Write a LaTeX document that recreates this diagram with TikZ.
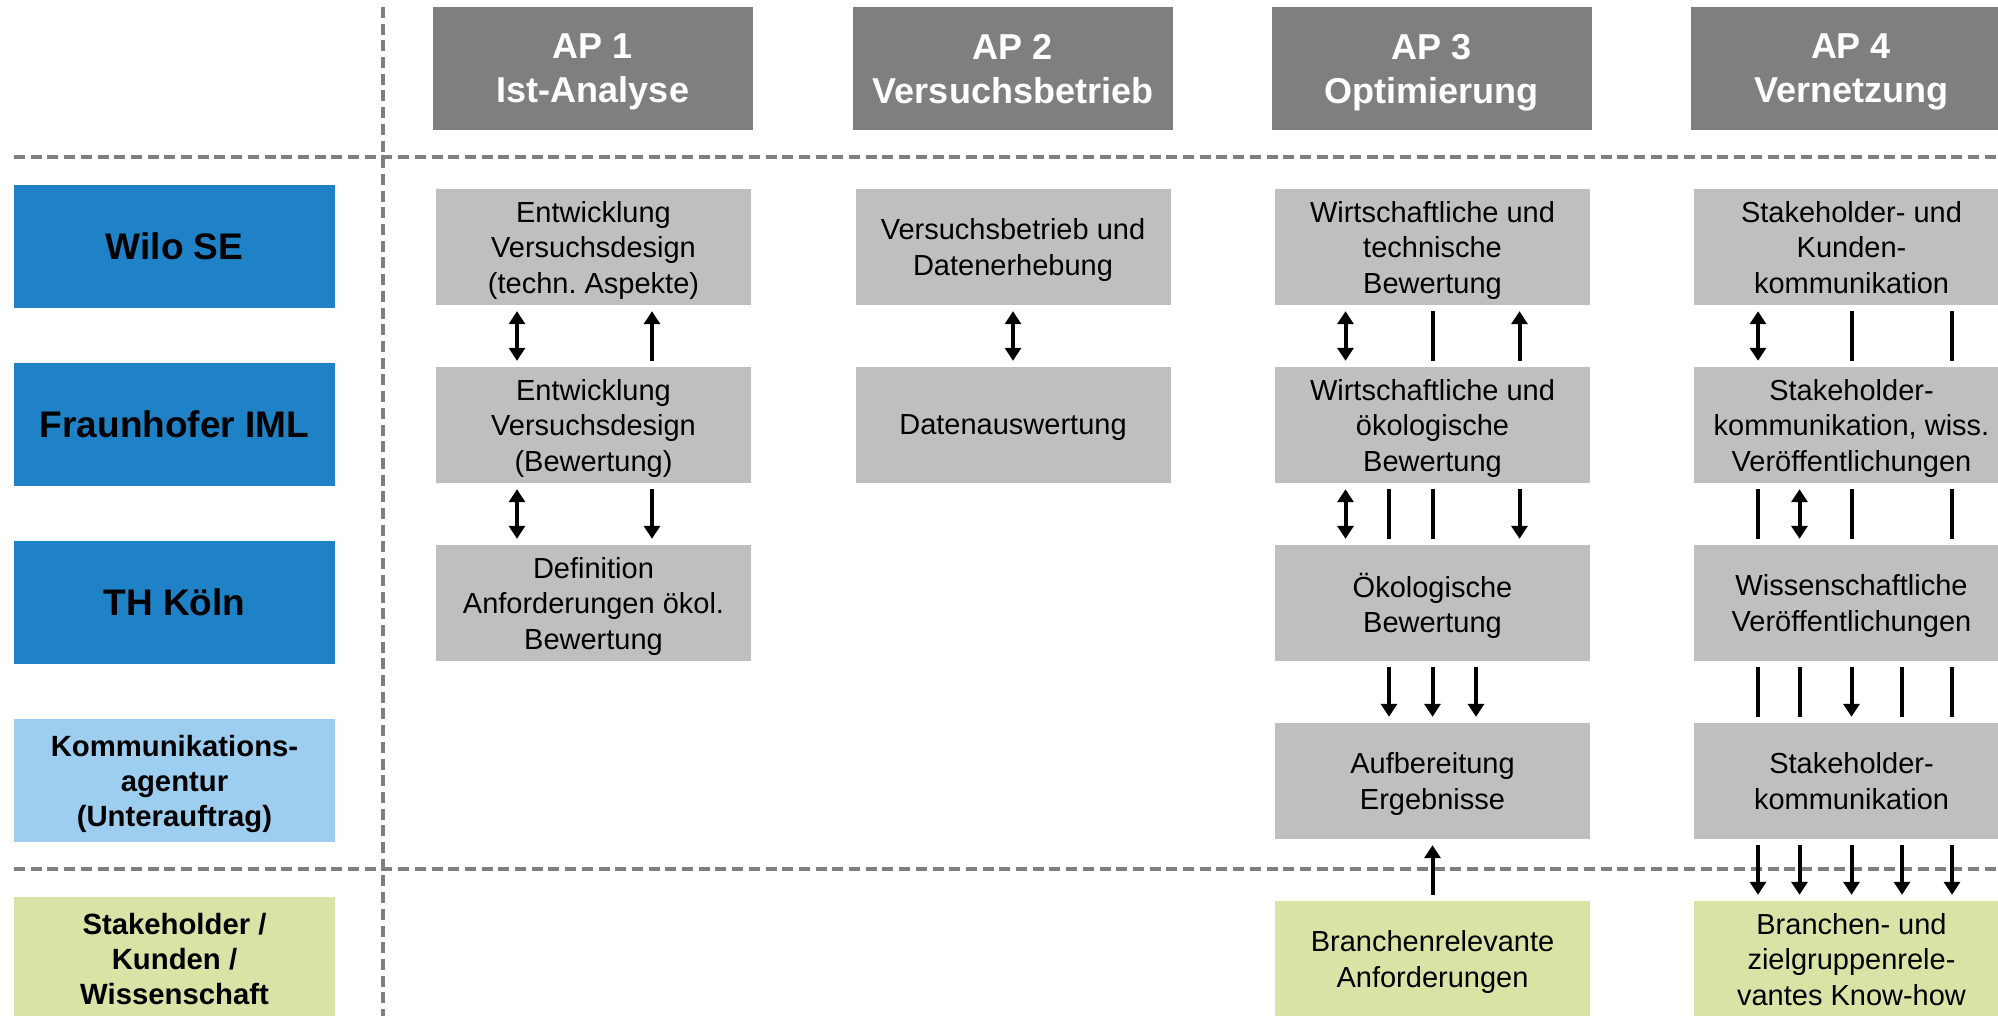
\documentclass[tikz,border=0pt]{standalone}
\usepackage{fontspec}
\setmainfont{Liberation Sans}
\usetikzlibrary{arrows.meta}
\frenchspacing

\definecolor{apgrey}{HTML}{7F7F7F}
\definecolor{taskgrey}{HTML}{BFBFBF}
\definecolor{partnerblue}{HTML}{1F82C6}
\definecolor{agenturblue}{HTML}{9DCEF0}
\definecolor{stakegreen}{HTML}{D7E4A6}

\tikzset{
	aphead/.style={fill=apgrey,text=white,inner sep=0pt,align=center,minimum width=320pt,minimum height=123pt,font=\fontsize{36}{44}\selectfont\bfseries,text depth=-2pt},
	partner/.style={fill=partnerblue,inner sep=0pt,align=center,minimum width=321pt,minimum height=123pt,font=\fontsize{37}{43}\selectfont\bfseries},
	partnersmall/.style={partner,font=\fontsize{29.3}{35}\selectfont\bfseries,text depth=-0.5pt},
	task/.style={fill=taskgrey,inner sep=0pt,align=center,minimum width=315pt,minimum height=116pt,font=\fontsize{29}{35.5}\selectfont,text depth=-1.3pt},
	result/.style={task,fill=stakegreen},
	divider/.style={apgrey,line width=4pt,dash pattern=on 11pt off 5.7pt},
	link/.style={line width=4pt,shorten <=6pt,shorten >=6pt,>={Triangle[length=13pt,width=16pt]}}
}

\begin{document}
\begin{tikzpicture}[x=1pt,y=-1pt]
	\useasboundingbox (0,0) rectangle (1998,1016);
	\draw[divider] (14,157) -- (1998,157);
	\draw[divider] (14,869) -- (1998,869);
	\draw[divider] (383,7) -- (383,1016);

	\node[aphead] (ap1) at (593,68.5) {AP 1\\Ist-Analyse};
	\node[aphead] (ap2) at (1013,68.5) {AP 2\\Versuchsbetrieb};
	\node[aphead] (ap3) at (1431.5,68.5) {AP 3\\Optimierung};
	\node[aphead] (ap4) at (1851,68.5) {AP 4\\Vernetzung};

	\node[partner] (wilo) at (174.5,246.5) {Wilo SE};
	\node[partner] (iml) at (174.5,424.5) {Fraunhofer IML};
	\node[partner] (thk) at (174.5,602.5) {TH Köln};
	\node[partnersmall,fill=agenturblue] (agentur) at (174.5,780.5) {Kommunikations-\\agentur\\(Unterauftrag)};
	\node[partnersmall,fill=stakegreen] (stake) at (174.5,958.5) {Stakeholder /\\Kunden /\\Wissenschaft};

	\node[task] (t11) at (593.5,247) {Entwicklung\\Versuchsdesign\\(techn. Aspekte)};
	\node[task] (t12) at (593.5,425) {Entwicklung\\Versuchsdesign\\(Bewertung)};
	\node[task] (t13) at (593.5,603) {Definition\\Anforderungen ökol.\\Bewertung};

	\node[task] (t21) at (1013,247) {Versuchsbetrieb und\\Datenerhebung};
	\node[task] (t22) at (1013,425) {Datenauswertung};

	\node[task] (t31) at (1432.5,247) {Wirtschaftliche und\\technische\\Bewertung};
	\node[task] (t32) at (1432.5,425) {Wirtschaftliche und\\ökologische\\Bewertung};
	\node[task] (t33) at (1432.5,603) {Ökologische\\Bewertung};
	\node[task] (t34) at (1432.5,781) {Aufbereitung\\Ergebnisse};
	\node[result] (r3) at (1432.5,959) {Branchenrelevante\\Anforderungen};

	\node[task] (t41) at (1851.5,247) {Stakeholder- und\\Kunden-\\kommunikation};
	\node[task] (t42) at (1851.5,425) {Stakeholder-\\kommunikation, wiss.\\Veröffentlichungen};
	\node[task] (t43) at (1851.5,603) {Wissenschaftliche\\Veröffentlichungen};
	\node[task] (t44) at (1851.5,781) {Stakeholder-\\kommunikation};
	\node[result] (r4) at (1851.5,959) {Branchen- und\\zielgruppenrele-\\vantes Know-how};

	\draw[link,<->] ([xshift=-76.5pt]t11.south) -- ([xshift=-76.5pt]t12.north);
	\draw[link,<-] ([xshift=58.5pt]t11.south) -- ([xshift=58.5pt]t12.north);
	\draw[link,<->] ([xshift=-76.5pt]t12.south) -- ([xshift=-76.5pt]t13.north);
	\draw[link,->] ([xshift=58.5pt]t12.south) -- ([xshift=58.5pt]t13.north);

	\draw[link,<->] (t21) -- (t22);

	\draw[link,<->] ([xshift=-87pt]t31.south) -- ([xshift=-87pt]t32.north);
	\draw[link] (t31) -- (t32);
	\draw[link,<-] ([xshift=87pt]t31.south) -- ([xshift=87pt]t32.north);
	\draw[link,<->] ([xshift=-87pt]t32.south) -- ([xshift=-87pt]t33.north);
	\draw[link] ([xshift=-43.5pt]t32.south) -- ([xshift=-43.5pt]t33.north);
	\draw[link] (t32) -- (t33);
	\draw[link,->] ([xshift=87pt]t32.south) -- ([xshift=87pt]t33.north);
	\draw[link,->] ([xshift=-43.5pt]t33.south) -- ([xshift=-43.5pt]t34.north);
	\draw[link,->] (t33) -- (t34);
	\draw[link,->] ([xshift=43.5pt]t33.south) -- ([xshift=43.5pt]t34.north);
	\draw[link,->] (r3) -- (t34);

	\draw[link,<->] ([xshift=-93.5pt]t41.south) -- ([xshift=-93.5pt]t42.north);
	\draw[link] (t41) -- (t42);
	\draw[link] ([xshift=100.5pt]t41.south) -- ([xshift=100.5pt]t42.north);
	\draw[link] ([xshift=-93.5pt]t42.south) -- ([xshift=-93.5pt]t43.north);
	\draw[link,<->] ([xshift=-52pt]t42.south) -- ([xshift=-52pt]t43.north);
	\draw[link] (t42) -- (t43);
	\draw[link] ([xshift=100.5pt]t42.south) -- ([xshift=100.5pt]t43.north);
	\foreach \dx in {-93.5,-52,50.5,100.5}
		\draw[link] ([xshift=\dx pt]t43.south) -- ([xshift=\dx pt]t44.north);
	\draw[link,->] (t43) -- (t44);
	\foreach \dx in {-93.5,-52,0,50.5,100.5}
		\draw[link,->] ([xshift=\dx pt]t44.south) -- ([xshift=\dx pt]r4.north);
\end{tikzpicture}
\end{document}
